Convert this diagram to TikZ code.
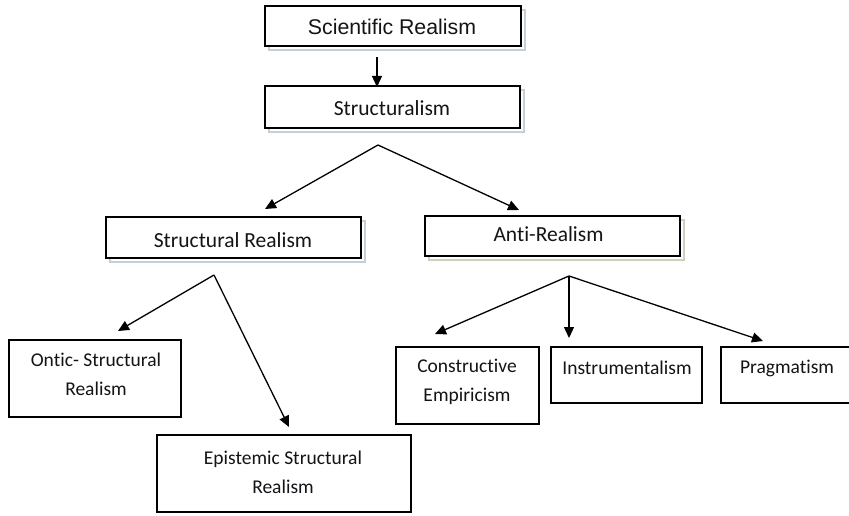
\documentclass[tikz,border=0pt]{standalone}
\usepackage{fontspec}
\setmainfont{Carlito}[Ligatures={NoCommon,NoContextual}]
\newfontfamily\arialfont{Liberation Sans}
\usetikzlibrary{arrows.meta}

\definecolor{shadeblue}{HTML}{C3D0D8}
\definecolor{shadegreen}{HTML}{CBD2BC}
\definecolor{inktext}{HTML}{141418}

\tikzset{
  box/.style={draw=black, line width=2pt, fill=white, inner sep=0pt},
  topbox/.style={draw=black, line width=2.6pt, fill=white, inner sep=0pt},
  lbl/.style={text=inktext, font=\fontsize{21.5}{26}\selectfont, inner sep=0pt, align=center},
  smalllbl/.style={text=inktext, font=\fontsize{19.5}{29}\selectfont, inner sep=0pt, align=center},
  link/.style={line width=1.3pt, -{Triangle[length=11pt,width=10pt]}},
  faint/.style={line width=1.2pt},
}

\begin{document}
\begin{tikzpicture}[x=1pt, y=-1pt]
  \useasboundingbox (0,0) rectangle (849,516);
  \clip (0,0) rectangle (849,516);

  % faint offset outlines behind the upper boxes
  \draw[faint, shadeblue] (269,10) rectangle (525,50);
  \draw[faint, shadeblue] (269,90) rectangle (524,132);
  \draw[faint, shadeblue] (110,221) rectangle (365,262);
  \draw[faint, shadegreen] (429,220) rectangle (684,260);

  % boxes
  \node[topbox, minimum width=256pt, minimum height=40pt] (sci) at (393,26) {};
  \node[topbox, minimum width=255pt, minimum height=42pt] (struc) at (392.5,107) {};
  \node[topbox, minimum width=255pt, minimum height=41pt] (sreal) at (233.5,237.5) {};
  \node[topbox, minimum width=255pt, minimum height=40pt] (anti) at (552.5,236) {};
  \node[box, minimum width=172pt, minimum height=77pt] (ontic) at (95,378.5) {};
  \node[box, minimum width=254pt, minimum height=77pt] (epist) at (284,473.5) {};
  \node[box, minimum width=143pt, minimum height=77pt] (constr) at (467.5,385.5) {};
  \node[box, minimum width=151pt, minimum height=56pt] (instr) at (626.5,375) {};
  \node[box, minimum width=160pt, minimum height=56pt] (prag) at (801,375) {};

  % labels
  \node[lbl, font=\arialfont\fontsize{21.3}{26}\selectfont] (tsci) at (392,27) {Scientific Realism};
  \node[lbl] (tstruc) at (392,108) {Structuralism};
  \node[lbl] (tsreal) at (233,240) {Structural Realism};
  \node[lbl] (tanti) at (548.5,234) {Anti-Realism};
  \node[smalllbl] (tontic) at (96,374) {Ontic- Structural\\Realism};
  \node[smalllbl] (tepist) at (283,472) {Epistemic Structural\\Realism};
  \node[smalllbl] (tconstr) at (467,382) {Constructive\\Empiricism};
  \node[smalllbl] (tinstr) at (627,368) {Instrumentalism};
  \node[smalllbl] (tprag) at (787,368) {Pragmatism};

  % branching points and arrow tips
  \coordinate (sciout) at (377,57);
  \coordinate (strucin) at (377,87);
  \coordinate (split1) at (378,145);
  \coordinate (tipS) at (265,209);
  \coordinate (tipA) at (519,210);
  \coordinate (split2) at (214,275);
  \coordinate (tipO) at (118,331);
  \coordinate (tipE) at (289,427);
  \coordinate (split3) at (569,276);
  \coordinate (tipC) at (435,334);
  \coordinate (tipI) at (569,338);
  \coordinate (tipP) at (763,341);

  % connectors
  \draw[link] (sciout) -- (strucin);
  \draw[link] (split1) -- (tipS);
  \draw[link] (split1) -- (tipA);
  \draw[link] (split2) -- (tipO);
  \draw[link] (split2) -- (tipE);
  \draw[link] (split3) -- (tipC);
  \draw[link] (split3) -- (tipI);
  \draw[link] (split3) -- (tipP);
\end{tikzpicture}
\end{document}
